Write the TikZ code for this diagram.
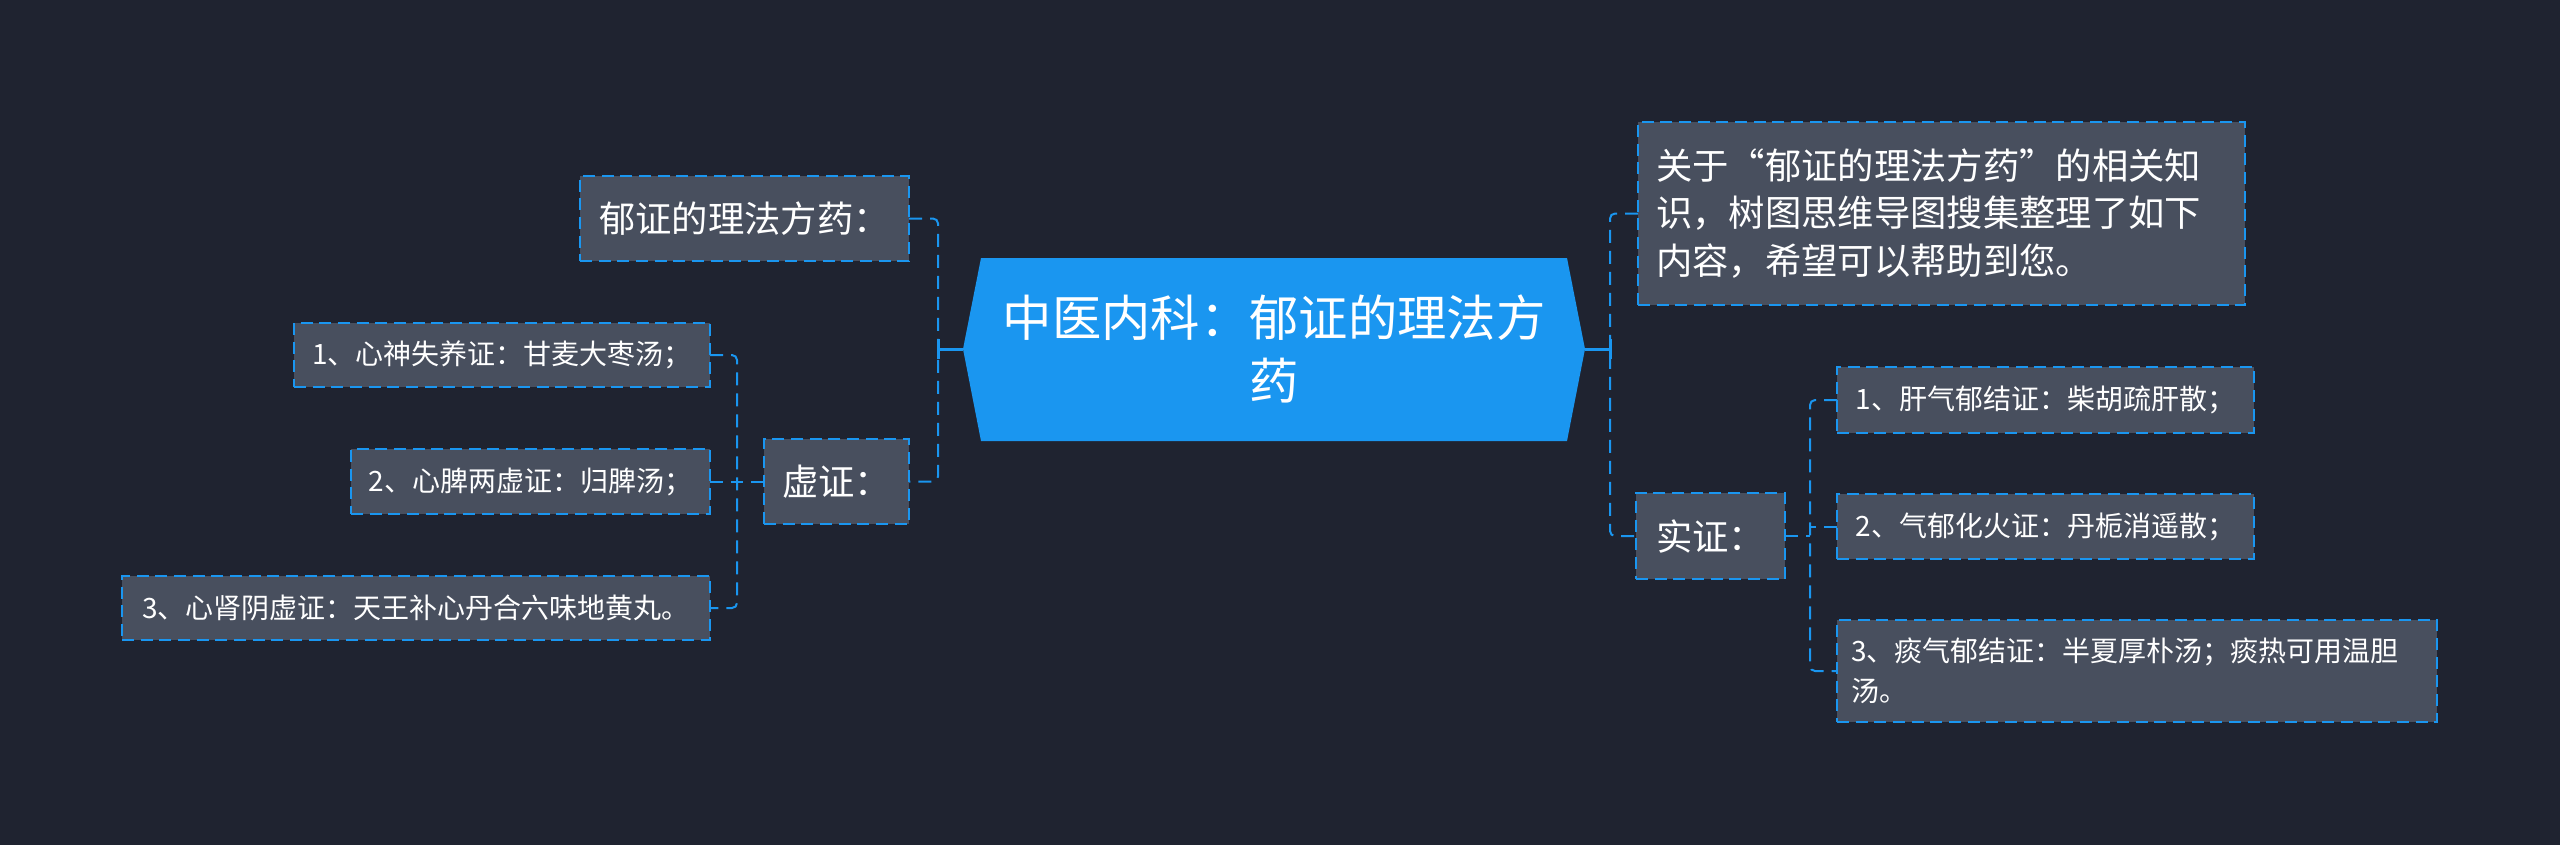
\documentclass[tikz,border=0pt]{standalone}
\usepackage{fontspec}
\setmainfont{Noto Sans CJK SC}
\definecolor{canvas}{HTML}{1F2330}
\definecolor{mainblue}{HTML}{1A96F0}
\definecolor{boxgray}{HTML}{484F5E}

\begin{document}
\begin{tikzpicture}[x=0.3pt,y=-0.3pt,
  every node/.style={inner sep=0pt,outer sep=0pt,text=white,align=center},
  topic/.style={fill=boxgray,draw=mainblue,line width=0.6pt,dash pattern=on 3.6pt off 2pt,
    font=\fontsize{10.9}{14.25}\selectfont},
  leaf/.style={topic,font=\fontsize{8.4}{11.85}\selectfont},
  link/.style={draw=mainblue,line width=0.6pt,dash pattern=on 3.9pt off 2.4pt,rounded corners=1.5pt},
  rootlink/.style={draw=mainblue,line width=0.9pt}]
  \fill[canvas] (0,0) rectangle (2560,845);
  % central topic
  \fill[mainblue] (963,349) -- (981,258) -- (1567,258) -- (1585,349) -- (1567,441) -- (981,441) -- cycle;
  \node[minimum width=186.6pt,minimum height=54.9pt,font=\fontsize{14.8}{19}\selectfont] (root) at (1274,349)
    {中医内科：郁证的理法方\\药};
  % left side
  \node[topic,minimum width=98.7pt,minimum height=25.5pt] (fa) at (744.5,218.5) {郁证的理法方药：};
  \node[topic,minimum width=43.5pt,minimum height=25.5pt] (xu) at (836.5,481.5) {虚证：};
  \node[leaf,minimum width=124.8pt,minimum height=19.2pt] (x1) at (502,355) {1、心神失养证：甘麦大枣汤；};
  \node[leaf,minimum width=107.7pt,minimum height=19.5pt] (x2) at (530.5,481.5) {2、心脾两虚证：归脾汤；};
  \node[leaf,minimum width=176.4pt,minimum height=19.2pt] (x3) at (416,608) {3、心肾阴虚证：天王补心丹合六味地黄丸。};
  % right side
  \node[topic,align=left,text width=171.3pt,minimum width=182.1pt,minimum height=54.9pt] (info) at (1941.5,213.5)
    {关于“郁证的理法方药”的相关知\\识，树图思维导图搜集整理了如下\\内容，希望可以帮助到您。};
  \node[topic,minimum width=44.7pt,minimum height=25.8pt] (shi) at (1710.5,536) {实证：};
  \node[leaf,minimum width=125.1pt,minimum height=19.8pt] (s1) at (2045.5,400) {1、肝气郁结证：柴胡疏肝散；};
  \node[leaf,minimum width=125.1pt,minimum height=19.5pt] (s2) at (2045.5,526.5) {2、气郁化火证：丹栀消遥散；};
  \node[leaf,align=left,text width=171.6pt,minimum width=180pt,minimum height=30.6pt] (s3) at (2137,671)
    {3、痰气郁结证：半夏厚朴汤；痰热可用温胆\\汤。};
  % connectors
  \coordinate (lj) at (938,349);
  \coordinate (rj) at (1610,349);
  \coordinate (xj) at (737,481.5);
  \coordinate (sj) at (1810,536);
  \draw[rootlink] (root.west) -- (lj);
  \draw[rootlink] ([yshift=-3pt]lj) -- ([yshift=3pt]lj);
  \draw[link] (fa.east) -| (lj) |- (xu.east);
  \draw[rootlink] (root.east) -- (rj);
  \draw[rootlink] ([yshift=-3pt]rj) -- ([yshift=3pt]rj);
  \draw[link] (info.west) -| (rj) |- (shi.west);
  \draw[link] (xu.west) -- (xj);
  \draw[link] (x1.east) -| (xj) |- (x3.east);
  \draw[link] (x2.east) -- (xj);
  \draw[link] (shi.east) -- (sj);
  \draw[link] (s1.west) -| (sj) |- (s3.west);
  \draw[link] (s2.west) -- (s2.west -| sj);
\end{tikzpicture}
\end{document}
